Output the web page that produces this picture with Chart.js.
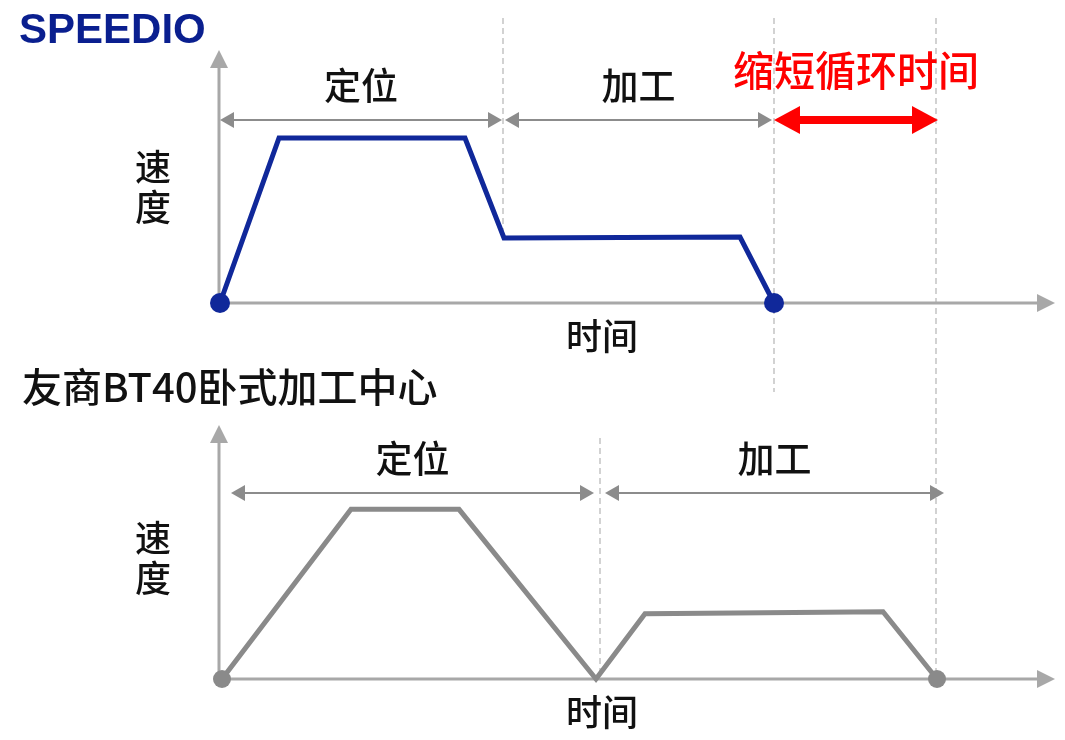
<!DOCTYPE html>
<html>
<head>
<meta charset="utf-8">
<script src="https://cdn.jsdelivr.net/npm/chart.js@4"></script>
<style>
  html, body { margin: 0; padding: 0; background: #fff; }
  #wrap { position: relative; width: 1065px; height: 740px; }
  canvas { position: absolute; left: 0; top: 0; }
</style>
</head>
<body>
<div id="wrap">
  <canvas id="chartTop" width="1065" height="740"></canvas>
  <canvas id="chartRival" width="1065" height="740"></canvas>
</div>
<script>
// time (x) and speed (y) values
const topTime = [0.1, 6.0, 24.6, 28.5, 52.1, 55.5];
const topSpeed = [0, 16.5, 16.5, 6.5, 6.6, 0];
const rivalTime = [0.3, 13.2, 24.0, 37.7, 42.6, 66.4, 71.8];
const rivalSpeed = [0, 16.9, 16.9, 0, 6.5, 6.7, 0];

const phaseLabels = ['定位', '加工'];
const topPhases = [[0.1, 28.3], [28.6, 55.3]];
const rivalPhases = [[1.2, 37.5], [38.6, 72.5]];
const savedSpan = [55.5, 71.9];
const topBoundaries = [28.4, 55.5, 71.7];
const rivalBoundaries = [38.1, 71.8];

const CJK = '"Noto Sans CJK SC", "Noto Sans", sans-serif';
const AXIS_GRAY = '#a8a8a8';
const ARROW_GRAY = '#8c8c8c';

function arrowHead(ctx, x, y, dir, len, half, color) {
  // dir: 'l','r','u'
  ctx.fillStyle = color;
  ctx.beginPath();
  if (dir === 'r') { ctx.moveTo(x, y); ctx.lineTo(x - len, y - half); ctx.lineTo(x - len, y + half); }
  if (dir === 'l') { ctx.moveTo(x, y); ctx.lineTo(x + len, y - half); ctx.lineTo(x + len, y + half); }
  if (dir === 'u') { ctx.moveTo(x, y); ctx.lineTo(x - half, y + len); ctx.lineTo(x + half, y + len); }
  ctx.closePath();
  ctx.fill();
}

function doubleArrow(ctx, x1, x2, y, color, width, len, half) {
  ctx.strokeStyle = color;
  ctx.lineWidth = width;
  ctx.beginPath();
  ctx.moveTo(x1 + len - 1, y);
  ctx.lineTo(x2 - len + 1, y);
  ctx.stroke();
  arrowHead(ctx, x1, y, 'l', len, half, color);
  arrowHead(ctx, x2, y, 'r', len, half, color);
}

function dashed(ctx, x, y1, y2) {
  ctx.save();
  ctx.strokeStyle = '#c4c4c4';
  ctx.lineWidth = 1.5;
  ctx.setLineDash([6, 4]);
  ctx.beginPath();
  ctx.moveTo(x, y1);
  ctx.lineTo(x, y2);
  ctx.stroke();
  ctx.restore();
}

function text(ctx, s, x, y, font, color, align) {
  ctx.font = font;
  ctx.fillStyle = color || '#111';
  ctx.textAlign = align || 'center';
  ctx.textBaseline = 'middle';
  ctx.fillText(s, x, y);
}

function diagramPlugin(cfg) {
  return {
    id: 'diagram',
    beforeDatasetsDraw(chart) {
      const ctx = chart.ctx;
      const a = chart.chartArea;
      const xs = chart.scales.x;
      ctx.save();
      // dashed phase boundaries
      cfg.dashes.forEach(d => dashed(ctx, xs.getPixelForValue(d[0]), d[1], d[2]));
      // axes with arrows
      ctx.strokeStyle = AXIS_GRAY;
      ctx.lineWidth = 3;
      ctx.beginPath();
      ctx.moveTo(a.left, a.bottom);
      ctx.lineTo(a.left, a.top + 14);
      ctx.moveTo(a.left, a.bottom);
      ctx.lineTo(a.right - 14, a.bottom);
      ctx.stroke();
      arrowHead(ctx, a.left, a.top, 'u', 18, 9, AXIS_GRAY);
      arrowHead(ctx, a.right, a.bottom, 'r', 18, 9, AXIS_GRAY);
      // phase arrows and labels
      const ay = a.top + cfg.arrowOffset;
      cfg.phases.forEach((p, i) => {
        const x1 = xs.getPixelForValue(p[0]);
        const x2 = xs.getPixelForValue(p[1]);
        doubleArrow(ctx, x1, x2, ay, ARROW_GRAY, 2.2, 14, 8);
        text(ctx, phaseLabels[i], (x1 + x2) / 2, ay - 34, '500 37px ' + CJK, '#111');
      });
      if (cfg.saved) {
        const x1 = xs.getPixelForValue(cfg.saved[0]);
        const x2 = xs.getPixelForValue(cfg.saved[1]);
        doubleArrow(ctx, x1, x2, ay, '#ff0000', 8, 26, 14);
        text(ctx, '缩短循环时间', (x1 + x2) / 2, ay - 50, '500 41px ' + CJK, '#ff0000');
      }
      // axis titles
      text(ctx, '速', a.left - 66, a.top + cfg.speedOffset, '500 36px ' + CJK, '#111');
      text(ctx, '度', a.left - 66, a.top + cfg.speedOffset + 40, '500 36px ' + CJK, '#111');
      text(ctx, '时间', 602, a.bottom + 33, '500 36px ' + CJK, '#111');
      // title
      text(ctx, cfg.title, cfg.titleX, cfg.titleY, cfg.titleFont, cfg.titleColor, 'left');
      ctx.restore();
    }
  };
}

function makeChart(id, times, speeds, color, radius, padding, cfg) {
  return new Chart(document.getElementById(id).getContext('2d'), {
    type: 'line',
    data: {
      datasets: [{
        data: times.map((t, i) => ({ x: t, y: speeds[i] })),
        borderColor: color,
        backgroundColor: color,
        borderWidth: 5,
        tension: 0,
        clip: false,
        pointRadius: times.map((t, i) => (i === 0 || i === times.length - 1) ? radius : 0),
        pointBorderWidth: 0,
        pointBackgroundColor: color
      }]
    },
    options: {
      responsive: false,
      animation: false,
      layout: { padding: padding },
      plugins: { legend: { display: false }, tooltip: { enabled: false } },
      scales: {
        x: { type: 'linear', display: false, min: 0, max: 83.6 },
        y: { display: false, min: 0, max: 25.3 }
      }
    },
    plugins: [diagramPlugin(cfg)]
  });
}

// SPEEDIO
makeChart('chartTop', topTime, topSpeed, '#10289a', 10,
  { left: 219, right: 10, top: 50, bottom: 437 },
  {
    phases: topPhases, saved: savedSpan, arrowOffset: 70, speedOffset: 117,
    dashes: [[topBoundaries[0], 18, 240], [topBoundaries[1], 18, 392], [topBoundaries[2], 18, 680]],
    title: 'SPEEDIO', titleX: 19, titleY: 31,
    titleFont: 'bold 42px "Liberation Sans", Arial, sans-serif', titleColor: '#0a1f8f'
  });

// competitor BT40 horizontal machining center
makeChart('chartRival', rivalTime, rivalSpeed, '#8a8a8a', 9,
  { left: 219, right: 10, top: 425, bottom: 61 },
  {
    phases: rivalPhases, saved: null, arrowOffset: 68, speedOffset: 113,
    dashes: [[rivalBoundaries[0], 438, 679]],
    title: '友商BT40卧式加工中心', titleX: 22, titleY: 387,
    titleFont: '500 40px ' + CJK, titleColor: '#111'
  });
</script>
</body>
</html>
